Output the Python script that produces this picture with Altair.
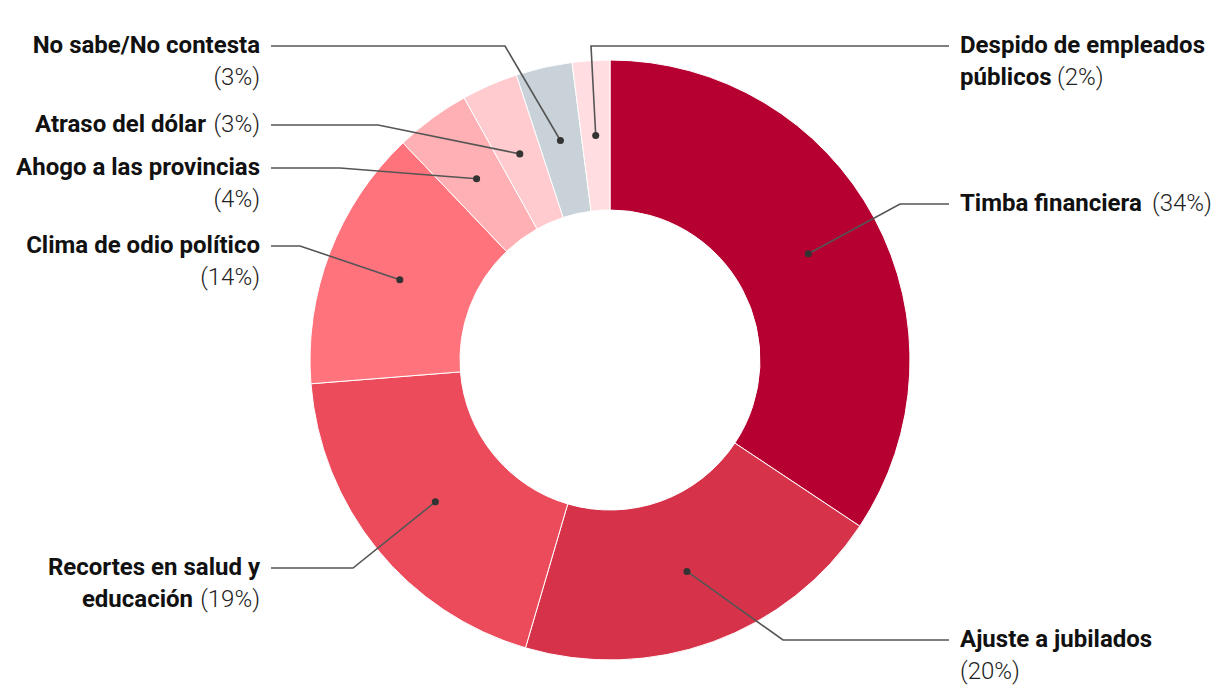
import math
import altair as alt
import pandas as pd

# ---------------- data ----------------
categories = [
    "Timba financiera",
    "Ajuste a jubilados",
    "Recortes en salud y educación",
    "Clima de odio político",
    "Ahogo a las provincias",
    "Atraso del dólar",
    "No sabe/No contesta",
    "Despido de empleados públicos",
]
values = [34, 20, 19, 14, 4, 3, 3, 2]
colors = ["#b50031", "#d6334a", "#ec4b5c", "#ff737c", "#ffb0b4", "#ffcbcf", "#c8d2d8", "#ffdde1"]

# label text (bold part) split into lines; the percentage is added after
label_lines = [
    ["Timba financiera"],
    ["Ajuste a jubilados"],
    ["Recortes en salud y", "educación"],
    ["Clima de odio político"],
    ["Ahogo a las provincias"],
    ["Atraso del dólar"],
    ["No sabe/No contesta"],
    ["Despido de empleados", "públicos"],
]
pct_inline = [True, False, True, False, False, True, False, True]

# ---------------- layout (pixels, relative to donut centre, y downwards) ----------------
W, H = 1204, 684
CX, CY = 602, 352
R_IN, R_OUT, R_DOT = 150, 300, 225
LABEL_X = 350
LINE_END = 339
LINE_H = 32
FONT = "Roboto"
FS = 24
side = ["right", "right", "left", "left", "left", "left", "left", "right"]
label_y = [-156, 280, 208, -114, -192, -235, -314, -314]
elbow_x = [290, 173, -257, -310, -270, -232, -105, -19]
inline_gap = [192, 0, 67, 0, 0, 54, 0, 97]  # offset of the inline split point

# ---------------- build tables ----------------
total = sum(values)
arc_df = pd.DataFrame({"cat": categories, "value": values, "order": list(range(len(values)))})

line_rows, dot_rows, text_rows = [], [], []
cum = 0
for i, (c, v) in enumerate(zip(categories, values)):
    mid = (cum + v / 2) / total * 2 * math.pi
    cum += v
    dx, dy = R_DOT * math.sin(mid), -R_DOT * math.cos(mid)
    dot_rows.append({"cat": c, "x": dx, "y": dy})
    sgn = 1 if side[i] == "right" else -1
    ly = label_y[i]
    for k, (px, py) in enumerate([(dx, dy), (elbow_x[i], ly), (sgn * LINE_END, ly)]):
        line_rows.append({"cat": c, "k": k, "x": px, "y": py})
    pct = f"({v}%)"
    lines = label_lines[i]
    for j, t in enumerate(lines):
        yy = ly + j * LINE_H
        last = j == len(lines) - 1
        if last and pct_inline[i]:
            if side[i] == "right":
                text_rows.append({"t": t, "x": LABEL_X, "y": yy, "side": "right", "w": "bold"})
                text_rows.append({"t": pct, "x": LABEL_X + inline_gap[i], "y": yy, "side": "right", "w": "light"})
            else:
                text_rows.append({"t": t, "x": -LABEL_X - inline_gap[i], "y": yy, "side": "left", "w": "bold"})
                text_rows.append({"t": pct, "x": -LABEL_X, "y": yy, "side": "left", "w": "light"})
        else:
            text_rows.append({"t": t, "x": sgn * LABEL_X, "y": yy, "side": side[i], "w": "bold"})
    if not pct_inline[i]:
        text_rows.append({"t": pct, "x": sgn * LABEL_X, "y": ly + len(lines) * LINE_H, "side": side[i], "w": "light"})

line_df = pd.DataFrame(line_rows)
dot_df = pd.DataFrame(dot_rows)
text_df = pd.DataFrame(text_rows)

xs = alt.Scale(domain=[-CX, W - CX], nice=False, zero=False)
ys = alt.Scale(domain=[-CY, H - CY], nice=False, zero=False, reverse=True)
X = alt.X("x:Q", scale=xs, axis=None)
Y = alt.Y("y:Q", scale=ys, axis=None)

arcs = alt.Chart(arc_df).mark_arc(
    innerRadius=R_IN, outerRadius=R_OUT, stroke="white", strokeWidth=1
).encode(
    theta=alt.Theta("value:Q", stack=True),
    order=alt.Order("order:Q"),
    color=alt.Color("cat:N", scale=alt.Scale(domain=categories, range=colors), legend=None),
    x=alt.value(CX),
    y=alt.value(CY),
)

leaders = alt.Chart(line_df).mark_line(color="#555555", strokeWidth=1.6).encode(
    x=X, y=Y, detail="cat:N", order="k:Q"
)
dots = alt.Chart(dot_df).mark_circle(color="#333333", opacity=1, size=50).encode(x=X, y=Y)

def txt(s, w):
    d = text_df[(text_df.side == s) & (text_df.w == w)]
    return alt.Chart(d).mark_text(
        align="left" if s == "right" else "right",
        baseline="middle",
        font=FONT,
        fontSize=FS,
        fontWeight="bold" if w == "bold" else 300,
        color="#111111" if w == "bold" else "#222222",
    ).encode(x=X, y=Y, text="t:N")

chart = alt.layer(
    arcs, leaders, dots,
    txt("right", "bold"), txt("left", "bold"), txt("right", "light"), txt("left", "light"),
).properties(
    width=W, height=H, padding=0, autosize=alt.AutoSizeParams(type="none")
).configure_view(stroke=None)

chart.save("out.html", embed_options={"renderer": "svg", "actions": False})
